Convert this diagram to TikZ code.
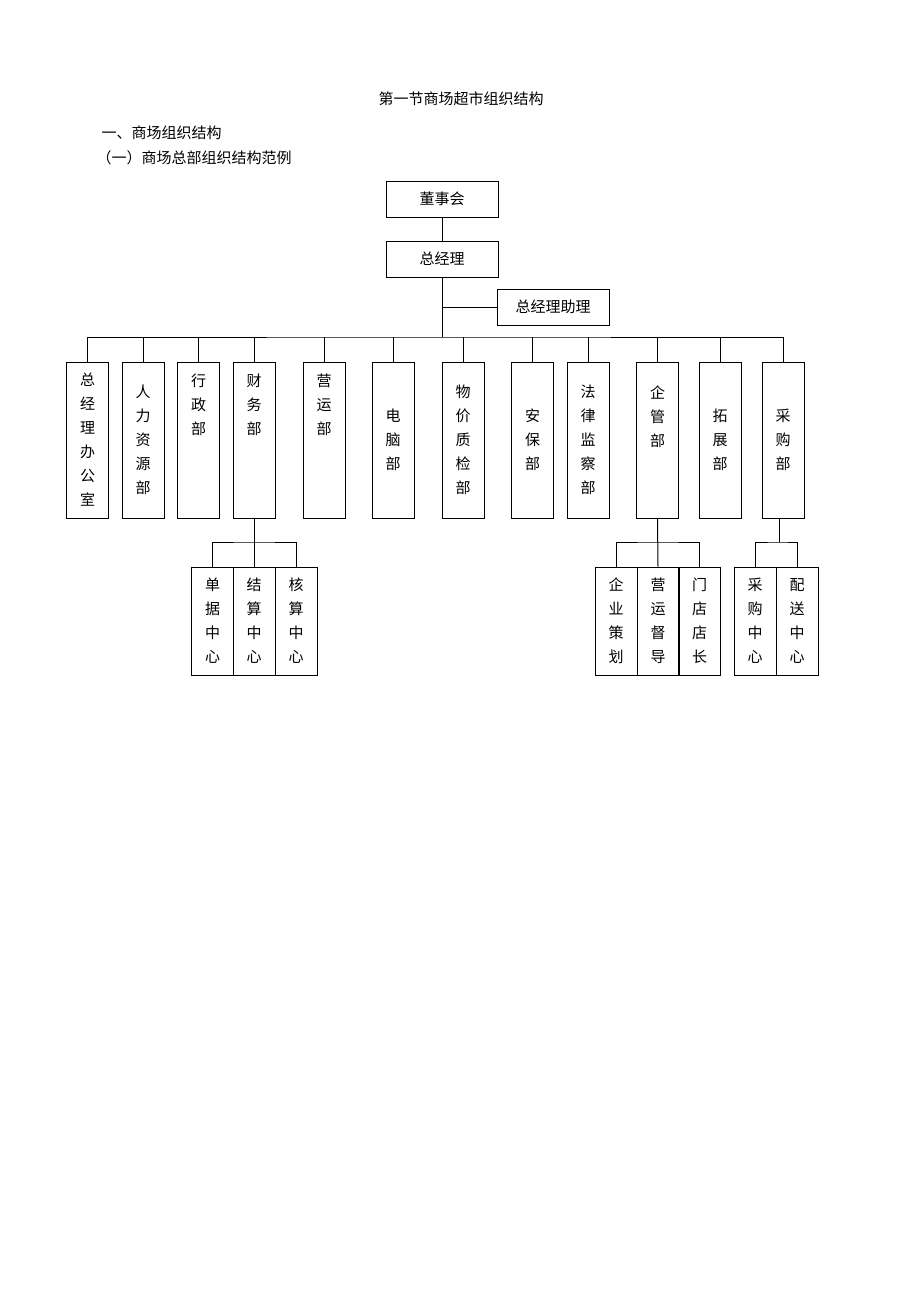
\documentclass[tikz,border=0pt]{standalone}
\usepackage{fontspec}
\setmainfont{Noto Sans CJK SC}
\usetikzlibrary{positioning}

\begin{document}
\begin{tikzpicture}[x=1pt, y=-1pt, line width=1pt,
    every node/.style={font=\fontsize{15}{24}\selectfont},
    topbox/.style={draw, minimum width=112pt, minimum height=36pt, inner sep=0pt},
    deptbox/.style={draw, align=center, minimum width=42pt, minimum height=156pt, inner sep=0pt},
    subbox/.style={draw, align=center, minimum width=42pt, minimum height=108pt, inner sep=0pt}]
            \fill[white] (0,0) rectangle (920,1302);
            % headings
            \node (title) at (461,99) {第一节商场超市组织结构};
            \node[anchor=west, inner sep=0pt] (h1) at (101,133) {一、商场组织结构};
            \node[anchor=west, inner sep=0pt] (h2) at (96,158) {（一）商场总部组织结构范例};
            % top
            \node[topbox] (board) at (442,199) {董事会};
            \node[topbox] (gm) at (442,259) {总经理};
            \node[topbox] (asst) at (553,307) {总经理助理};
            \coordinate (bus) at (442,337);
            % departments
            \node[deptbox] (d1) at (87.5,440) {总\\经\\理\\办\\公\\室};
            \node[deptbox] (d2) at (143,440) {人\\力\\资\\源\\部};
            \node[deptbox] (d3) at (198.5,440) {行\\政\\部\\~\\~\\~};
            \node[deptbox] (d4) at (254,440) {财\\务\\部\\~\\~\\~};
            \node[deptbox] (d5) at (324,440) {营\\运\\部\\~\\~\\~};
            \node[deptbox] (d6) at (393,440) {电\\脑\\部};
            \node[deptbox] (d7) at (463,440) {物\\价\\质\\检\\部};
            \node[deptbox] (d8) at (532.5,440) {安\\保\\部};
            \node[deptbox] (d9) at (588,440) {法\\律\\监\\察\\部};
            \node[deptbox] (d10) at (657.5,440) {企\\管\\部\\~\\~};
            \node[deptbox] (d11) at (720,440) {拓\\展\\部};
            \node[deptbox] (d12) at (783,440) {采\\购\\部};
            % centres under departments
            \node[subbox] (f1) at (212.5,621) {单\\据\\中\\心};
            \node[subbox] (f2) at (254,621) {结\\算\\中\\心};
            \node[subbox] (f3) at (296,621) {核\\算\\中\\心};
            \node[subbox] (q1) at (616,621) {企\\业\\策\\划};
            \node[subbox] (q2) at (658,621) {营\\运\\督\\导};
            \node[subbox] (q3) at (699.5,621) {门\\店\\店\\长};
            \node[subbox] (c1) at (755,621) {采\\购\\中\\心};
            \node[subbox] (c2) at (797,621) {配\\送\\中\\心};
            \coordinate (fbus) at (254,542);
            \coordinate (cbus) at (779,542);
            % lines
            \draw (board) -- (gm);
            \draw (gm) -- (bus);
            \draw (asst) -- (asst.west -| gm);
            \draw (d1.north) |- (bus) -| (d12.north);
            \foreach \d in {d2,d3,d4,d5,d6,d7,d8,d9,d10,d11}
                \draw (\d.north) -- (\d.north |- bus);
            \draw (d4.south) -- (f2.north);
            \draw (f1.north) |- (fbus) -| (f3.north);
            \draw (d10.south) -- (q2.north);
            \draw (q1.north) |- (q2.north |- fbus) -| (q3.north);
            \draw (cbus) -- (cbus |- d12.south);
            \draw (c1.north) |- (cbus) -| (c2.north);
        \end{tikzpicture}
\end{document}
